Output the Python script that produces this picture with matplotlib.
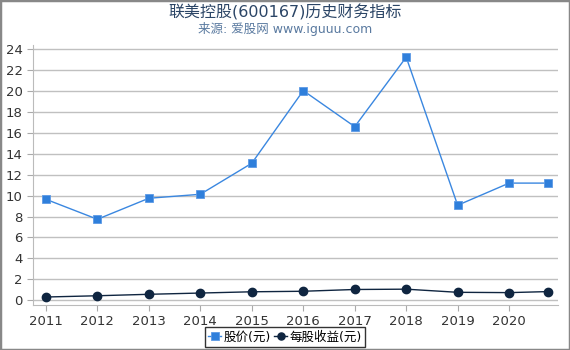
import matplotlib
matplotlib.use("Agg")
import matplotlib.pyplot as plt
from matplotlib.patches import Rectangle

# data
years = [2011, 2012, 2013, 2014, 2015, 2016, 2017, 2018, 2019, 2020, 2020.76]
price = [9.65, 7.74, 9.75, 10.13, 13.1, 20.05, 16.6, 23.25, 9.08, 11.2, 11.2]
eps = [0.30, 0.42, 0.56, 0.68, 0.80, 0.85, 1.02, 1.05, 0.75, 0.72, 0.82]
xtick_years = [2011, 2012, 2013, 2014, 2015, 2016, 2017, 2018, 2019, 2020]
yticks = list(range(0, 25, 2))

plt.rcParams["font.family"] = ["DejaVu Sans", "Noto Sans CJK SC"]

fig = plt.figure(figsize=(5.7, 3.5), dpi=100)
ax = fig.add_axes([0.058, 0.129, 0.921, 0.742])

ax.plot(years, price, color="#3a87e0", linewidth=1.0, marker="s",
        markersize=6, markerfacecolor="#2f7fdb", markeredgecolor="#5c9ae6",
        markeredgewidth=0.6, label="股价(元)", zorder=3)
ax.plot(years, eps, color="#0f2540", linewidth=1.0, marker="o",
        markersize=6, markerfacecolor="#0f2540", markeredgecolor="#0f2540",
        label="每股收益(元)", zorder=3)

ax.set_xlim(2010.75, 2020.95)
ax.set_ylim(-0.45, 24.4)
ax.set_xticks(xtick_years)
ax.set_yticks(yticks)
ax.tick_params(axis="both", labelsize=9.5, colors="#333333", length=4,
               color="#aaaaaa")
ax.grid(axis="y", color="#c0c0c0", linewidth=1.0)
ax.set_axisbelow(True)
for s in ("top", "right"):
    ax.spines[s].set_visible(False)
for s in ("left", "bottom"):
    ax.spines[s].set_color("#bbbbbb")

fig.text(0.5, 0.965, "联美控股(600167)历史财务指标", ha="center", va="center",
         fontsize=11.5, color="#2b4566")
fig.text(0.5, 0.918, "来源: 爱股网 www.iguuu.com", ha="center", va="center",
         fontsize=9, color="#5a7aa0")

leg = fig.legend(loc="center", bbox_to_anchor=(0.5, 0.037), ncol=2,
                 fontsize=9, frameon=True, fancybox=False, handlelength=1.0,
                 handletextpad=0.2, columnspacing=0.3, borderpad=0.3,
                 borderaxespad=0, markerscale=0.85)
leg.get_frame().set_edgecolor("black")
leg.get_frame().set_linewidth(1.0)

fig.patches.append(Rectangle((0, 0), 1, 1, transform=fig.transFigure,
                             fill=False, edgecolor="#888888", linewidth=2.5))

fig.savefig("out.png", dpi=100)
